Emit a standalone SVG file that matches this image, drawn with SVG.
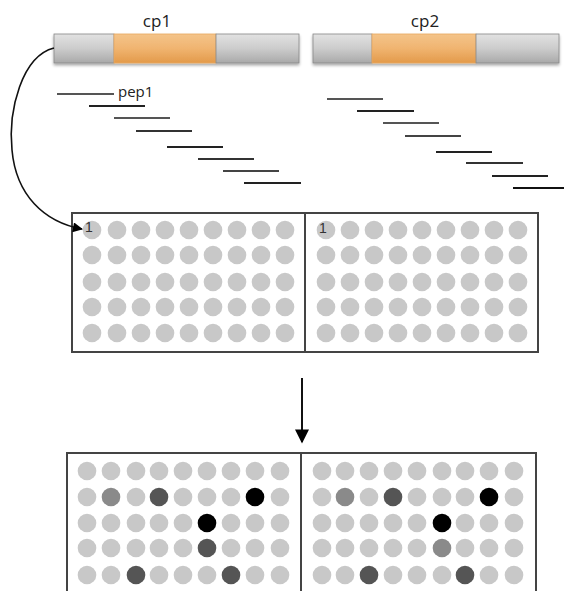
<svg xmlns="http://www.w3.org/2000/svg" width="564" height="591" viewBox="0 0 564 591">
<defs>
<linearGradient id="gGray" x1="0" y1="0" x2="0" y2="1">
<stop offset="0" stop-color="#e2e2e2"/><stop offset="0.5" stop-color="#cccccc"/><stop offset="1" stop-color="#a9a9a9"/>
</linearGradient>
<linearGradient id="gOrange" x1="0" y1="0" x2="0" y2="1">
<stop offset="0" stop-color="#f4c48a"/><stop offset="0.5" stop-color="#f0b470"/><stop offset="1" stop-color="#e39a4a"/>
</linearGradient>
<filter id="sh" x="-5%" y="-20%" width="110%" height="150%">
<feGaussianBlur in="SourceAlpha" stdDeviation="1.5"/><feOffset dx="0" dy="2"/>
<feComponentTransfer><feFuncA type="linear" slope="0.35"/></feComponentTransfer>
<feMerge><feMergeNode/><feMergeNode in="SourceGraphic"/></feMerge>
</filter>
<marker id="ah" viewBox="0 0 10 10" refX="9" refY="5" markerWidth="11" markerHeight="10" orient="auto" markerUnits="userSpaceOnUse">
<path d="M0,0 L10,5 L0,10 z" fill="#000"/>
</marker>
<marker id="ah2" viewBox="0 0 10 10" refX="9" refY="5" markerWidth="17" markerHeight="14" orient="auto" markerUnits="userSpaceOnUse">
<path d="M0,0 L10,5 L0,10 z" fill="#000"/>
</marker>
</defs>
<style>
.lbl{font-family:"Open Sans","Liberation Sans",sans-serif;fill:#222;}
.seg{stroke:#888;stroke-width:0.8;}
.pep{stroke-width:2.2;stroke-linecap:butt;}
.plate{fill:#fff;stroke:#444;stroke-width:2;}
.div{stroke:#444;stroke-width:2;}
.w{fill:#c8c8c8;}
.m{fill:#8a8a8a;}
.d{fill:#555;}
.k{fill:#000;}
.one{font-family:"Liberation Sans",sans-serif;font-size:14px;fill:#333;}
</style>

<g id="cp1">
<g filter="url(#sh)">
<rect x="54" y="34" width="60" height="29" fill="url(#gGray)" class="seg"/>
<rect x="114" y="34" width="102" height="29" fill="url(#gOrange)" stroke="#e8a860" stroke-width="0.8"/>
<rect x="216" y="34" width="83" height="29" fill="url(#gGray)" class="seg"/>
</g>
<text class="lbl" x="157" y="27" font-size="17" text-anchor="middle">cp1</text>
</g>

<g id="cp2">
<g filter="url(#sh)">
<rect x="313" y="34" width="59" height="29" fill="url(#gGray)" class="seg"/>
<rect x="372" y="34" width="104" height="29" fill="url(#gOrange)" stroke="#e8a860" stroke-width="0.8"/>
<rect x="476" y="34" width="83" height="29" fill="url(#gGray)" class="seg"/>
</g>
<text class="lbl" x="425" y="27" font-size="17" text-anchor="middle">cp2</text>
</g>

<g id="peptides1">
<line class="pep" x1="57" y1="94" x2="114" y2="94" stroke="#555"/>
<line class="pep" x1="89" y1="106" x2="145" y2="106" stroke="#222"/>
<line class="pep" x1="114" y1="118" x2="170" y2="118" stroke="#555"/>
<line class="pep" x1="136" y1="131" x2="192" y2="131" stroke="#333"/>
<line class="pep" x1="167" y1="147" x2="223" y2="147" stroke="#222"/>
<line class="pep" x1="198" y1="159" x2="254" y2="159" stroke="#333"/>
<line class="pep" x1="223" y1="171" x2="279" y2="171" stroke="#444"/>
<line class="pep" x1="244" y1="183" x2="301" y2="183" stroke="#222"/>
<text class="lbl" x="118" y="97" font-size="15">pep1</text>
</g>

<g id="peptides2">
<line class="pep" x1="327" y1="99" x2="383" y2="99" stroke="#555"/>
<line class="pep" x1="357" y1="111" x2="414" y2="111" stroke="#222"/>
<line class="pep" x1="383" y1="123" x2="439" y2="123" stroke="#555"/>
<line class="pep" x1="405" y1="136" x2="461" y2="136" stroke="#444"/>
<line class="pep" x1="436" y1="152" x2="492" y2="152" stroke="#222"/>
<line class="pep" x1="466" y1="163" x2="523" y2="163" stroke="#333"/>
<line class="pep" x1="492" y1="176" x2="548" y2="176" stroke="#222"/>
<line class="pep" x1="513" y1="188" x2="564" y2="188" stroke="#111"/>
</g>

<g id="plate1">
<rect class="plate" x="72" y="213" width="466" height="139"/>
<line class="div" x1="305" y1="213" x2="305" y2="352"/>
<g class="w">
<g id="p1L">
<circle cx="92" cy="230" r="9.3"/><circle cx="117" cy="230" r="9.3"/><circle cx="141" cy="230" r="9.3"/><circle cx="165" cy="230" r="9.3"/><circle cx="189" cy="230" r="9.3"/><circle cx="213" cy="230" r="9.3"/><circle cx="237" cy="230" r="9.3"/><circle cx="261" cy="230" r="9.3"/><circle cx="285" cy="230" r="9.3"/>
<circle cx="92" cy="255" r="9.3"/><circle cx="117" cy="255" r="9.3"/><circle cx="141" cy="255" r="9.3"/><circle cx="165" cy="255" r="9.3"/><circle cx="189" cy="255" r="9.3"/><circle cx="213" cy="255" r="9.3"/><circle cx="237" cy="255" r="9.3"/><circle cx="261" cy="255" r="9.3"/><circle cx="285" cy="255" r="9.3"/>
<circle cx="92" cy="282" r="9.3"/><circle cx="117" cy="282" r="9.3"/><circle cx="141" cy="282" r="9.3"/><circle cx="165" cy="282" r="9.3"/><circle cx="189" cy="282" r="9.3"/><circle cx="213" cy="282" r="9.3"/><circle cx="237" cy="282" r="9.3"/><circle cx="261" cy="282" r="9.3"/><circle cx="285" cy="282" r="9.3"/>
<circle cx="92" cy="307" r="9.3"/><circle cx="117" cy="307" r="9.3"/><circle cx="141" cy="307" r="9.3"/><circle cx="165" cy="307" r="9.3"/><circle cx="189" cy="307" r="9.3"/><circle cx="213" cy="307" r="9.3"/><circle cx="237" cy="307" r="9.3"/><circle cx="261" cy="307" r="9.3"/><circle cx="285" cy="307" r="9.3"/>
<circle cx="92" cy="333" r="9.3"/><circle cx="117" cy="333" r="9.3"/><circle cx="141" cy="333" r="9.3"/><circle cx="165" cy="333" r="9.3"/><circle cx="189" cy="333" r="9.3"/><circle cx="213" cy="333" r="9.3"/><circle cx="237" cy="333" r="9.3"/><circle cx="261" cy="333" r="9.3"/><circle cx="285" cy="333" r="9.3"/>
</g>
<g id="p1R">
<circle cx="326" cy="230" r="9.3"/><circle cx="350" cy="230" r="9.3"/><circle cx="374" cy="230" r="9.3"/><circle cx="398" cy="230" r="9.3"/><circle cx="422" cy="230" r="9.3"/><circle cx="446" cy="230" r="9.3"/><circle cx="470" cy="230" r="9.3"/><circle cx="494" cy="230" r="9.3"/><circle cx="518" cy="230" r="9.3"/>
<circle cx="326" cy="255" r="9.3"/><circle cx="350" cy="255" r="9.3"/><circle cx="374" cy="255" r="9.3"/><circle cx="398" cy="255" r="9.3"/><circle cx="422" cy="255" r="9.3"/><circle cx="446" cy="255" r="9.3"/><circle cx="470" cy="255" r="9.3"/><circle cx="494" cy="255" r="9.3"/><circle cx="518" cy="255" r="9.3"/>
<circle cx="326" cy="282" r="9.3"/><circle cx="350" cy="282" r="9.3"/><circle cx="374" cy="282" r="9.3"/><circle cx="398" cy="282" r="9.3"/><circle cx="422" cy="282" r="9.3"/><circle cx="446" cy="282" r="9.3"/><circle cx="470" cy="282" r="9.3"/><circle cx="494" cy="282" r="9.3"/><circle cx="518" cy="282" r="9.3"/>
<circle cx="326" cy="307" r="9.3"/><circle cx="350" cy="307" r="9.3"/><circle cx="374" cy="307" r="9.3"/><circle cx="398" cy="307" r="9.3"/><circle cx="422" cy="307" r="9.3"/><circle cx="446" cy="307" r="9.3"/><circle cx="470" cy="307" r="9.3"/><circle cx="494" cy="307" r="9.3"/><circle cx="518" cy="307" r="9.3"/>
<circle cx="326" cy="333" r="9.3"/><circle cx="350" cy="333" r="9.3"/><circle cx="374" cy="333" r="9.3"/><circle cx="398" cy="333" r="9.3"/><circle cx="422" cy="333" r="9.3"/><circle cx="446" cy="333" r="9.3"/><circle cx="470" cy="333" r="9.3"/><circle cx="494" cy="333" r="9.3"/><circle cx="518" cy="333" r="9.3"/>
</g>
</g>
<text class="one" x="85" y="232">1</text>
<text class="one" x="319" y="233">1</text>
</g>

<g id="plate2">
<rect class="plate" x="67" y="453" width="469" height="150"/>
<line class="div" x1="301" y1="453" x2="301" y2="591"/>
<g class="w">
<circle cx="87" cy="471" r="9.3"/><circle cx="111" cy="471" r="9.3"/><circle cx="136" cy="471" r="9.3"/><circle cx="159" cy="471" r="9.3"/><circle cx="183" cy="471" r="9.3"/><circle cx="207" cy="471" r="9.3"/><circle cx="231" cy="471" r="9.3"/><circle cx="255" cy="471" r="9.3"/><circle cx="280" cy="471" r="9.3"/>
<circle cx="87" cy="497" r="9.3"/><circle cx="136" cy="497" r="9.3"/><circle cx="183" cy="497" r="9.3"/><circle cx="207" cy="497" r="9.3"/><circle cx="231" cy="497" r="9.3"/><circle cx="280" cy="497" r="9.3"/>
<circle cx="87" cy="523" r="9.3"/><circle cx="111" cy="523" r="9.3"/><circle cx="136" cy="523" r="9.3"/><circle cx="159" cy="523" r="9.3"/><circle cx="183" cy="523" r="9.3"/><circle cx="231" cy="523" r="9.3"/><circle cx="255" cy="523" r="9.3"/><circle cx="280" cy="523" r="9.3"/>
<circle cx="87" cy="548" r="9.3"/><circle cx="111" cy="548" r="9.3"/><circle cx="136" cy="548" r="9.3"/><circle cx="159" cy="548" r="9.3"/><circle cx="183" cy="548" r="9.3"/><circle cx="231" cy="548" r="9.3"/><circle cx="255" cy="548" r="9.3"/><circle cx="280" cy="548" r="9.3"/>
<circle cx="87" cy="575" r="9.3"/><circle cx="111" cy="575" r="9.3"/><circle cx="159" cy="575" r="9.3"/><circle cx="183" cy="575" r="9.3"/><circle cx="207" cy="575" r="9.3"/><circle cx="255" cy="575" r="9.3"/><circle cx="280" cy="575" r="9.3"/>

<circle cx="322" cy="471" r="9.3"/><circle cx="345" cy="471" r="9.3"/><circle cx="369" cy="471" r="9.3"/><circle cx="393" cy="471" r="9.3"/><circle cx="417" cy="471" r="9.3"/><circle cx="442" cy="471" r="9.3"/><circle cx="465" cy="471" r="9.3"/><circle cx="489" cy="471" r="9.3"/><circle cx="514" cy="471" r="9.3"/>
<circle cx="322" cy="497" r="9.3"/><circle cx="369" cy="497" r="9.3"/><circle cx="417" cy="497" r="9.3"/><circle cx="442" cy="497" r="9.3"/><circle cx="465" cy="497" r="9.3"/><circle cx="514" cy="497" r="9.3"/>
<circle cx="322" cy="523" r="9.3"/><circle cx="345" cy="523" r="9.3"/><circle cx="369" cy="523" r="9.3"/><circle cx="393" cy="523" r="9.3"/><circle cx="417" cy="523" r="9.3"/><circle cx="465" cy="523" r="9.3"/><circle cx="489" cy="523" r="9.3"/><circle cx="514" cy="523" r="9.3"/>
<circle cx="322" cy="548" r="9.3"/><circle cx="345" cy="548" r="9.3"/><circle cx="369" cy="548" r="9.3"/><circle cx="393" cy="548" r="9.3"/><circle cx="417" cy="548" r="9.3"/><circle cx="465" cy="548" r="9.3"/><circle cx="489" cy="548" r="9.3"/><circle cx="514" cy="548" r="9.3"/>
<circle cx="322" cy="575" r="9.3"/><circle cx="345" cy="575" r="9.3"/><circle cx="393" cy="575" r="9.3"/><circle cx="417" cy="575" r="9.3"/><circle cx="442" cy="575" r="9.3"/><circle cx="489" cy="575" r="9.3"/><circle cx="514" cy="575" r="9.3"/>
</g>
<circle class="m" cx="111" cy="497" r="9.3"/><circle class="d" cx="159" cy="497" r="9.3"/><circle class="k" cx="255" cy="497" r="9.3"/>
<circle class="k" cx="207" cy="523" r="9.3"/>
<circle class="d" cx="207" cy="548" r="9.3"/>
<circle class="d" cx="136" cy="575" r="9.3"/><circle class="d" cx="231" cy="575" r="9.3"/>

<circle class="m" cx="345" cy="497" r="9.3"/><circle class="d" cx="393" cy="497" r="9.3"/><circle class="k" cx="489" cy="497" r="9.3"/>
<circle class="k" cx="442" cy="523" r="9.3"/>
<circle class="m" cx="442" cy="548" r="9.3"/>
<circle class="d" cx="369" cy="575" r="9.3"/><circle class="d" cx="465" cy="575" r="9.3"/>
</g>

<g id="connectors">
<path d="M54,48 C22,56 8,110 12,150 C16,195 44,222 82,229" fill="none" stroke="#111" stroke-width="1.6" marker-end="url(#ah)"/>
<line x1="302" y1="378" x2="302" y2="442" stroke="#111" stroke-width="2" marker-end="url(#ah2)"/>
</g>
</svg>
